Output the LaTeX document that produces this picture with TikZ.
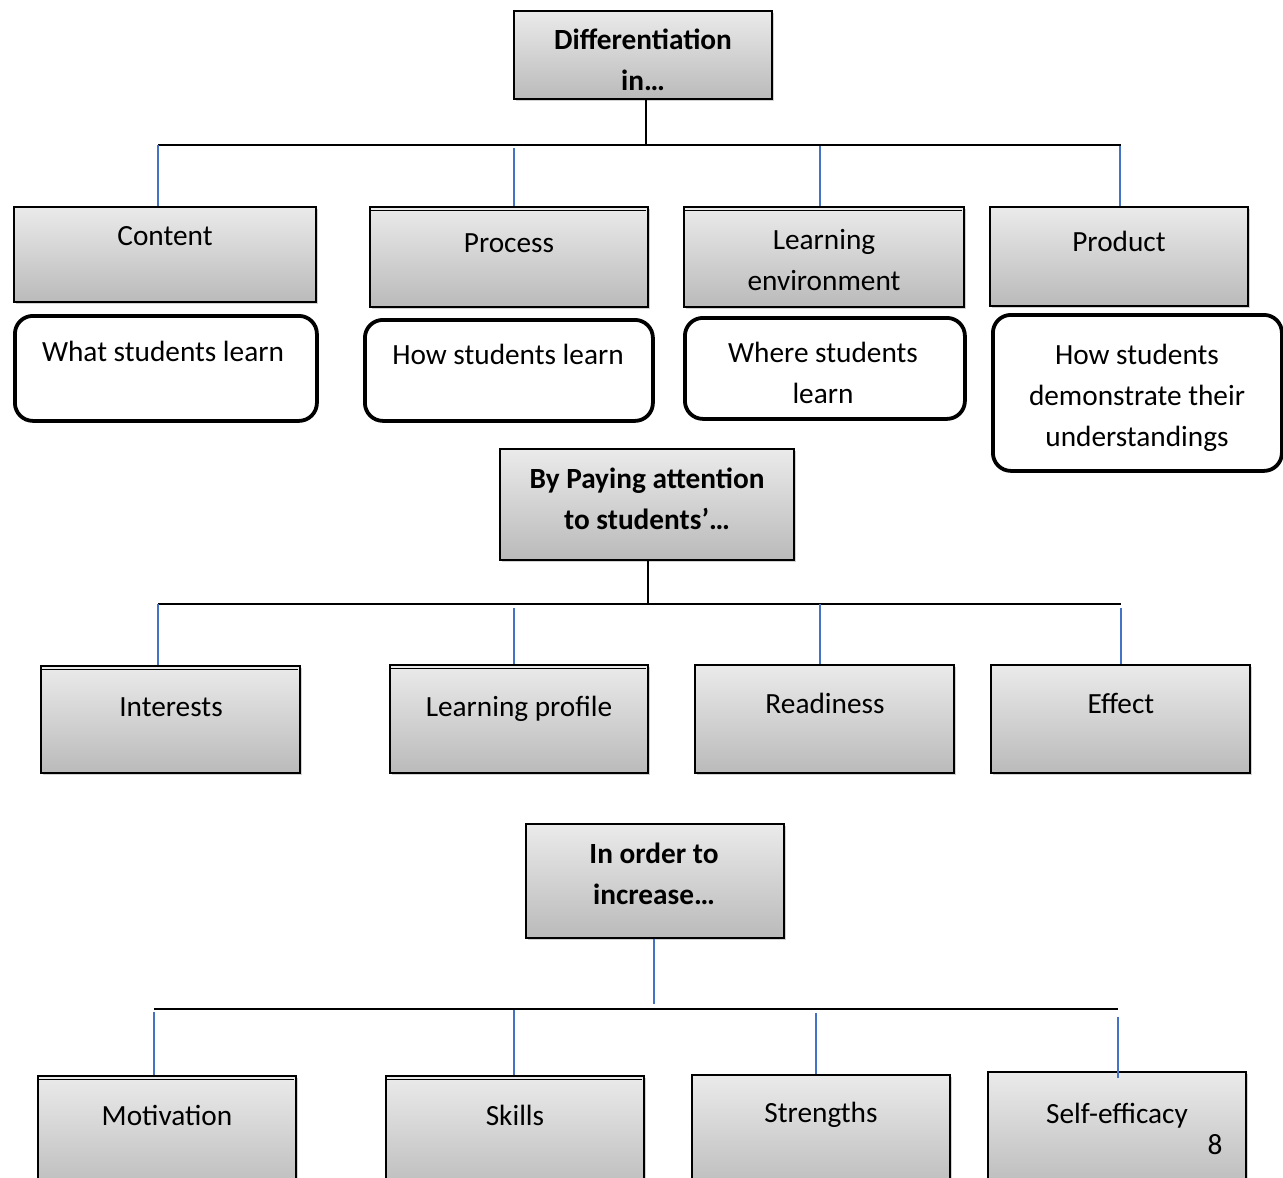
\documentclass[tikz,border=0pt]{standalone}
\usepackage{fontspec}
\setmainfont{Carlito}
\usetikzlibrary{shadows}
\begin{document}
\begin{tikzpicture}[x=1pt,y=-1pt,
  gbox/.style={draw=black,line width=1.6pt,top color=black!8,bottom color=black!27,
    drop shadow={opacity=0.35,shadow xshift=2.5pt,shadow yshift=-2.5pt},
    anchor=north west,inner sep=0pt},
  wbox/.style={draw=black,line width=3.8pt,fill=white,rounded corners=18pt,anchor=north west,inner sep=0pt},
  txt/.style={align=center,font=\fontsize{29.3}{41}\selectfont,inner sep=0pt,text height=20pt,text depth=6pt},
  btxt/.style={txt,font=\fontsize{29.3}{41}\selectfont\bfseries},
  bar/.style={draw=black,line width=2pt},
  blue/.style={draw={rgb,255:red,68;green,114;blue,196},line width=1.5pt}]
\clip (0,0) rectangle (1283,1178);
\fill[white] (0,0) rectangle (1283,1178);

% ---------- level 1 ----------
\node[gbox,minimum width=258pt,minimum height=88pt] (top) at (513,10) {};
\node[btxt] (topt) at (643,83) {Differentiation\\in…};
\coordinate (h1L) at (158,145);
\coordinate (h1R) at (1121,145);
\coordinate (h1M) at (646,145);
\draw[bar] (h1L) -- (h1R);
\draw[bar] (top.south -| h1M) -- (h1M);

\node[gbox,minimum width=302pt,minimum height=95pt] (content) at (13,206) {};
\node[gbox,minimum width=278pt,minimum height=100pt] (process) at (369,206) {};
\node[gbox,minimum width=280pt,minimum height=100pt] (env) at (683,206) {};
\node[gbox,minimum width=258pt,minimum height=99pt] (product) at (989,206) {};
\draw[black,line width=0.8pt] (370,210) -- (646,210);
\draw[black,line width=0.8pt] (684,210) -- (962,210);

\coordinate (c1) at (158,145);
\coordinate (c2) at (514,148);
\coordinate (c3) at (820,146);
\coordinate (c4) at (1120,146);
\draw[blue] (c1) -- (c1 |- content.north);
\draw[blue] (c2) -- (c2 |- process.north);
\draw[blue] (c3) -- (c3 |- env.north);
\draw[blue] (c4) -- (c4 |- product.north);

\node[txt] (contentt) at (165,238) {Content};
\node[txt] (processt) at (509,245) {Process};
\node[txt] (envt) at (824,283) {Learning\\environment};
\node[txt] (productt) at (1119,244) {Product};

\node[wbox,minimum width=302pt,minimum height=105pt] (w1) at (13,314) {};
\node[wbox,minimum width=288pt,minimum height=101pt] (w2) at (363,318) {};
\node[wbox,minimum width=280pt,minimum height=101pt] (w3) at (683,316) {};
\node[wbox,minimum width=289pt,minimum height=156pt] (w4) at (991,313) {};
\node[txt] (w1t) at (163,354) {What students learn};
\node[txt] (w2t) at (508,357) {How students learn};
\node[txt] (w3t) at (823,396) {Where students\\learn};
\node[txt] (w4t) at (1137,439) {How students\\demonstrate their\\understandings};

% ---------- level 2 ----------
\node[gbox,minimum width=294pt,minimum height=111pt] (pay) at (499,448) {};
\node[btxt] (payt) at (647,522) {By Paying attention\\to students’…};
\coordinate (h2L) at (158,604);
\coordinate (h2R) at (1121,604);
\coordinate (h2M) at (648,604);
\draw[bar] (h2L) -- (h2R);
\draw[bar] (pay.south -| h2M) -- (h2M);

\node[gbox,minimum width=259pt,minimum height=107pt] (interests) at (40,665) {};
\node[gbox,minimum width=258pt,minimum height=108pt] (profile) at (389,664) {};
\node[gbox,minimum width=259pt,minimum height=108pt] (readiness) at (694,664) {};
\node[gbox,minimum width=259pt,minimum height=108pt] (effect) at (990,664) {};
\draw[black,line width=0.8pt] (41,669) -- (298,669);
\draw[black,line width=0.8pt] (390,668) -- (646,668);

\coordinate (d1) at (158,604);
\coordinate (d2) at (514,608);
\coordinate (d3) at (820,604);
\coordinate (d4) at (1121,608);
\draw[blue] (d1) -- (d1 |- interests.north);
\draw[blue] (d2) -- (d2 |- profile.north);
\draw[blue] (d3) -- (d3 |- readiness.north);
\draw[blue] (d4) -- (d4 |- effect.north);

\node[txt] (interestst) at (171,709) {Interests};
\node[txt] (profilet) at (519,709) {Learning profile};
\node[txt] (readinesst) at (825,706) {Readiness};
\node[txt] (effectt) at (1121,706) {Effect};

% ---------- level 3 ----------
\node[gbox,minimum width=258pt,minimum height=114pt] (order) at (525,823) {};
\node[btxt] (ordert) at (654,897) {In order to\\increase…};
\coordinate (h3L) at (154,1009);
\coordinate (h3R) at (1118,1009);
\coordinate (h3M) at (654,1004);
\draw[bar] (h3L) -- (h3R);
\draw[blue] (order.south -| h3M) -- (h3M);

\node[gbox,minimum width=258pt,minimum height=120pt] (motivation) at (37,1075) {};
\node[gbox,minimum width=258pt,minimum height=120pt] (skills) at (385,1075) {};
\node[gbox,minimum width=258pt,minimum height=120pt] (strengths) at (691,1074) {};
\node[gbox,minimum width=258pt,minimum height=120pt] (selfeff) at (987,1071) {};
\draw[black,line width=0.8pt] (38,1079) -- (294,1079);
\draw[black,line width=0.8pt] (386,1079) -- (642,1079);

\coordinate (e1) at (154,1012);
\coordinate (e2) at (514,1010);
\coordinate (e3) at (816,1013);
\coordinate (e4) at (1118,1017);
\draw[blue] (e1) -- (e1 |- motivation.north);
\draw[blue] (e2) -- (e2 |- skills.north);
\draw[blue] (e3) -- (e3 |- strengths.north);
\draw[blue] (e4) -- ([yshift=-7pt]e4 |- selfeff.north);

\node[txt] (motivationt) at (167,1118) {Motivation};
\node[txt] (skillst) at (515,1118) {Skills};
\node[txt] (strengthst) at (821,1115) {Strengths};
\node[txt] (selfefft) at (1117,1116) {Self-efficacy};
\node[txt] (pagenum) at (1215,1147) {8};
\end{tikzpicture}
\end{document}
